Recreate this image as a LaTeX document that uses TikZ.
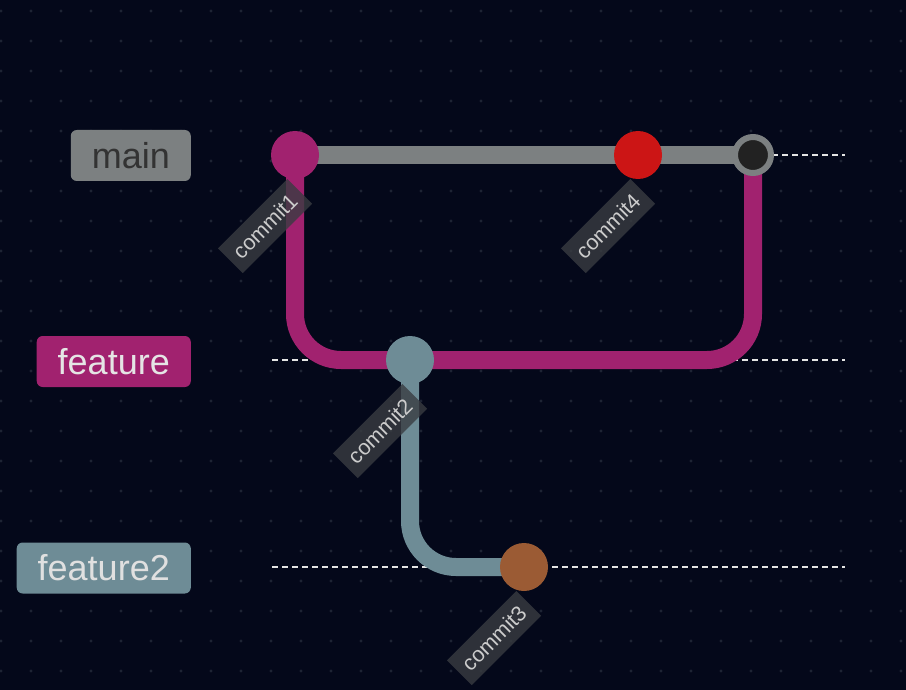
\documentclass[tikz,border=0pt]{standalone}
\usepackage{fontspec}
\setmainfont{Liberation Sans}
\usetikzlibrary{positioning}
\definecolor{bgcol}{HTML}{04081A}
\definecolor{dotcol}{HTML}{1E2434}
\definecolor{maincol}{HTML}{7C8081}
\definecolor{featcol}{HTML}{A1226F}
\definecolor{feattwocol}{HTML}{6E8C96}
\definecolor{redcol}{HTML}{CC1515}
\definecolor{browncol}{HTML}{9B5B34}
\definecolor{mergecol}{HTML}{222222}
\definecolor{lblbox}{HTML}{393C41}
\definecolor{lbltext}{HTML}{CCCCCC}
\definecolor{lanecol}{HTML}{E4E4E4}
\pgfdeclarelayer{back}
\pgfsetlayers{back,main}

\begin{document}
\begin{tikzpicture}[x=1pt, y=-1pt,
  commit/.style={circle, minimum size=48pt, inner sep=0pt},
  clabel/.style={rotate=45, fill=lblbox, fill opacity=0.8, text opacity=1, text=lbltext,
    font=\fontsize{21.5}{21.5}\selectfont, minimum width=98pt, minimum height=35pt, inner sep=0pt},
  blabel/.style={anchor=east, rounded corners=6pt, minimum height=51pt, inner xsep=21pt,
    inner ysep=0pt, font=\fontsize{36}{36}\selectfont},
  lane/.style={draw=lanecol, line width=2pt, dash pattern=on 6pt off 4pt},
  branch/.style={line width=18pt, rounded corners=46pt}]
\useasboundingbox (0,0) rectangle (906,690);

% commits
\node[commit, fill=featcol] (c1) at (295, 155) {};
\node[commit, fill=redcol] (c4) at (638, 155) {};
\node[circle, minimum size=36pt, inner sep=0pt, fill=mergecol, draw=maincol, line width=6pt] (m) at (753, 155) {};
\node[commit, fill=feattwocol] (c2) at (410, 360) {};
\node[commit, fill=browncol] (c3) at (524, 567) {};

% commit ids
\node[clabel] (l1) at ([shift={(-30,71)}]c1) {commit1};
\node[clabel] (l2) at ([shift={(-30,71)}]c2) {commit2};
\node[clabel] (l3) at ([shift={(-30,71)}]c3) {commit3};
\node[clabel] (l4) at ([shift={(-30,71)}]c4) {commit4};

% branch names
\node[blabel, fill=maincol, text=black!80] (bmain) at (191, 155.5) {main};
\node[blabel, fill=featcol, text=white!90!black] (bfeat) at (191, 361.5) {feature};
\node[blabel, fill=feattwocol, text=white!88!black] (bfeattwo) at (191, 568) {feature2};

% lane ends
\coordinate (mainA) at (272, 155);
\coordinate (mainB) at (845, 155);
\coordinate (featA) at (272, 360);
\coordinate (featB) at (845, 360);
\coordinate (feattwoA) at (272, 567);
\coordinate (feattwoB) at (845, 567);

\begin{pgfonlayer}{back}
\fill[bgcol] (0,0) rectangle (906,690);
\foreach \i in {0,...,30}
  \foreach \j in {0,...,22}
    \fill[dotcol] (1+30*\i, 11+30*\j) circle (1.7pt);

\draw[lane] (mainA) -- (mainB);
\draw[lane] (featA) -- (featB);
\draw[lane] (feattwoA) -- (feattwoB);

\draw[branch, draw=featcol] (c1.center) |- (c2.center) -| (m.center);
\draw[branch, draw=feattwocol] (c2.center) |- (c3.center);
\draw[branch, draw=maincol, rounded corners=0pt] (c1.center) -- (c4.center) -- (m.center);
\end{pgfonlayer}
\end{tikzpicture}
\end{document}
